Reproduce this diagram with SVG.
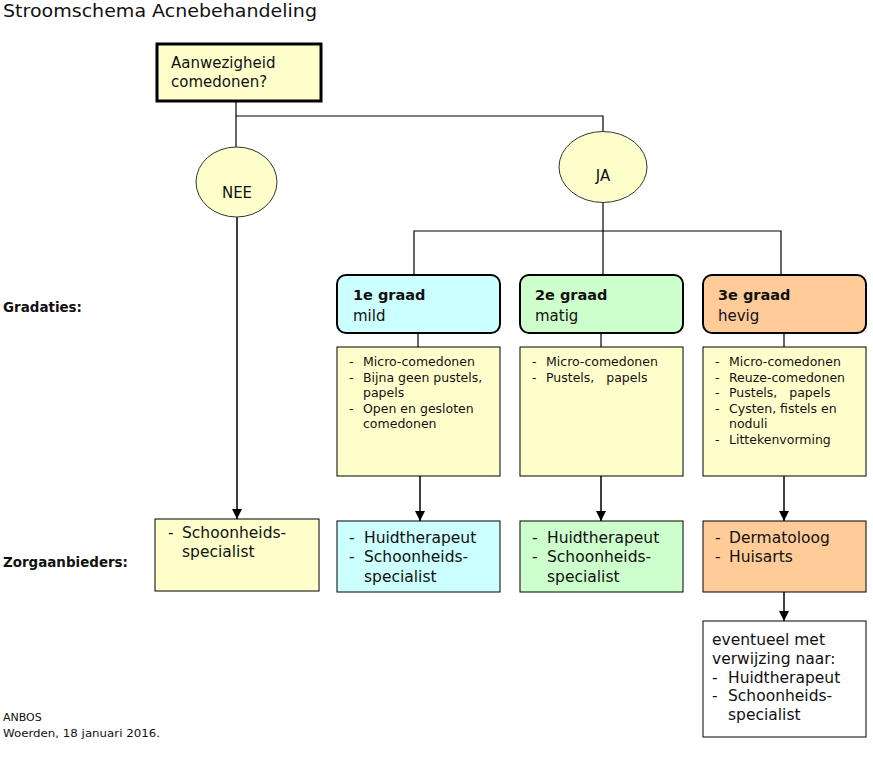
<svg xmlns="http://www.w3.org/2000/svg" width="873" height="758" viewBox="0 0 873 758">
<defs>
<marker id="arr" viewBox="0 0 10 10" refX="10" refY="5" markerWidth="10" markerHeight="10" markerUnits="userSpaceOnUse" orient="auto">
<path d="M0,0 L10,5 L0,10 z" fill="#000"/>
</marker>
<style>
text{font-family:"DejaVu Sans","Noto Sans",sans-serif;fill:#111;}
.t{font-size:18px;}
.q{font-size:15px;}
.lbl{font-size:14px;font-weight:bold;}
.gh{font-size:14.5px;font-weight:bold;}
.gs{font-size:15px;}
.s{font-size:12.5px;}
.p{font-size:15.5px;}
.f{font-size:11px;}
.yl{fill:#FFFFCC;stroke:#000;stroke-width:1;}
.grade{stroke:#000;stroke-width:2;}
.con{fill:none;stroke:#000;stroke-width:1.2;}
.arrow{fill:none;stroke:#000;stroke-width:1.5;marker-end:url(#arr);}
</style>
</defs>
<rect width="873" height="758" fill="#fff"/>
<text class="t" x="3" y="17" textLength="314" lengthAdjust="spacingAndGlyphs">Stroomschema Acnebehandeling</text>
<text class="lbl" x="3" y="312" textLength="79" lengthAdjust="spacingAndGlyphs">Gradaties:</text>
<text class="lbl" x="3" y="567" textLength="125" lengthAdjust="spacingAndGlyphs">Zorgaanbieders:</text>
<text class="f" x="3" y="721">ANBOS</text>
<text class="f" x="3" y="737" textLength="157" lengthAdjust="spacingAndGlyphs">Woerden, 18 januari 2016.</text>

<g id="connectors">
<polyline class="con" points="236,101 236,147"/>
<polyline class="con" points="236,116 603,116 603,131"/>
<polyline class="con" points="603,202 603,231"/>
<polyline class="con" points="414,275 414,231 781,231 781,275"/>
<polyline class="con" points="603,231 603,275"/>
<polyline class="con" points="418,333 418,347"/>
<polyline class="con" points="601,333 601,347"/>
<polyline class="con" points="784,333 784,347"/>
<line class="arrow" x1="237" y1="217" x2="237" y2="519"/>
<line class="arrow" x1="420" y1="476" x2="420" y2="521"/>
<line class="arrow" x1="601" y1="476" x2="601" y2="521"/>
<line class="arrow" x1="784" y1="476" x2="784" y2="521"/>
<line class="arrow" x1="784" y1="592" x2="784" y2="621"/>
</g>

<g id="start">
<rect x="157" y="44" width="164" height="57" fill="#FFFFCC" stroke="#000" stroke-width="3"/>
<text class="q" x="171" y="68">Aanwezigheid</text>
<text class="q" x="171" y="87">comedonen?</text>
</g>

<g id="nee">
<ellipse cx="236.5" cy="182" rx="40.5" ry="35" fill="#FFFFCC" stroke="#333" stroke-width="1"/>
<text class="q" x="237" y="198" text-anchor="middle">NEE</text>
</g>
<g id="ja">
<ellipse cx="603" cy="167" rx="44" ry="35.5" fill="#FFFFCC" stroke="#333" stroke-width="1"/>
<text class="q" x="603" y="181" text-anchor="middle">JA</text>
</g>

<g id="grade1">
<rect class="grade" x="337" y="275" width="163" height="58" rx="9" fill="#CCFFFF"/>
<text class="gh" x="353" y="300">1e graad</text>
<text class="gs" x="353" y="321">mild</text>
</g>
<g id="grade2">
<rect class="grade" x="520" y="275" width="163" height="58" rx="9" fill="#CCFFCC"/>
<text class="gh" x="535" y="300">2e graad</text>
<text class="gs" x="535" y="321">matig</text>
</g>
<g id="grade3">
<rect class="grade" x="703" y="275" width="163" height="58" rx="9" fill="#FFCC99"/>
<text class="gh" x="718" y="300">3e graad</text>
<text class="gs" x="718" y="321">hevig</text>
</g>

<g id="desc1">
<rect class="yl" x="337" y="347" width="163" height="129"/>
<text class="s" x="349" y="366">-</text><text class="s" x="363" y="366">Micro-comedonen</text>
<text class="s" x="349" y="381.5">-</text><text class="s" x="363" y="381.5">Bijna geen pustels,</text>
<text class="s" x="363" y="397">papels</text>
<text class="s" x="349" y="412.5">-</text><text class="s" x="363" y="412.5">Open en gesloten</text>
<text class="s" x="363" y="428">comedonen</text>
</g>
<g id="desc2">
<rect class="yl" x="520" y="347" width="163" height="129"/>
<text class="s" x="532" y="366">-</text><text class="s" x="546" y="366">Micro-comedonen</text>
<text class="s" x="532" y="381.5">-</text><text class="s" x="546" y="381.5" xml:space="preserve">Pustels,   papels</text>
</g>
<g id="desc3">
<rect class="yl" x="703" y="347" width="163" height="129"/>
<text class="s" x="715" y="366">-</text><text class="s" x="729" y="366">Micro-comedonen</text>
<text class="s" x="715" y="381.5">-</text><text class="s" x="729" y="381.5">Reuze-comedonen</text>
<text class="s" x="715" y="397">-</text><text class="s" x="729" y="397" xml:space="preserve">Pustels,   papels</text>
<text class="s" x="715" y="412.5">-</text><text class="s" x="729" y="412.5">Cysten, fistels en</text>
<text class="s" x="729" y="428">noduli</text>
<text class="s" x="715" y="443.5">-</text><text class="s" x="729" y="443.5">Littekenvorming</text>
</g>

<g id="provNee">
<rect class="yl" x="155" y="519" width="164" height="72"/>
<text class="p" x="168" y="538">-</text><text class="p" x="182" y="538">Schoonheids-</text>
<text class="p" x="182" y="557">specialist</text>
</g>
<g id="prov1">
<rect x="337" y="521" width="163" height="71" fill="#CCFFFF" stroke="#000" stroke-width="1"/>
<text class="p" x="349" y="543">-</text><text class="p" x="364" y="543">Huidtherapeut</text>
<text class="p" x="349" y="562">-</text><text class="p" x="364" y="562">Schoonheids-</text>
<text class="p" x="364" y="582">specialist</text>
</g>
<g id="prov2">
<rect x="520" y="521" width="163" height="71" fill="#CCFFCC" stroke="#000" stroke-width="1"/>
<text class="p" x="532" y="543">-</text><text class="p" x="547" y="543">Huidtherapeut</text>
<text class="p" x="532" y="562">-</text><text class="p" x="547" y="562">Schoonheids-</text>
<text class="p" x="547" y="582">specialist</text>
</g>
<g id="prov3">
<rect x="703" y="521" width="163" height="71" fill="#FFCC99" stroke="#000" stroke-width="1"/>
<text class="p" x="715" y="543">-</text><text class="p" x="729" y="543">Dermatoloog</text>
<text class="p" x="715" y="562">-</text><text class="p" x="729" y="562">Huisarts</text>
</g>
<g id="referral">
<rect x="703" y="621" width="163" height="116" fill="#fff" stroke="#000" stroke-width="1"/>
<text class="p" x="712" y="645">eventueel met</text>
<text class="p" x="712" y="664">verwijzing naar:</text>
<text class="p" x="712" y="683">-</text><text class="p" x="728" y="683">Huidtherapeut</text>
<text class="p" x="712" y="701">-</text><text class="p" x="728" y="701">Schoonheids-</text>
<text class="p" x="728" y="720">specialist</text>
</g>
</svg>
